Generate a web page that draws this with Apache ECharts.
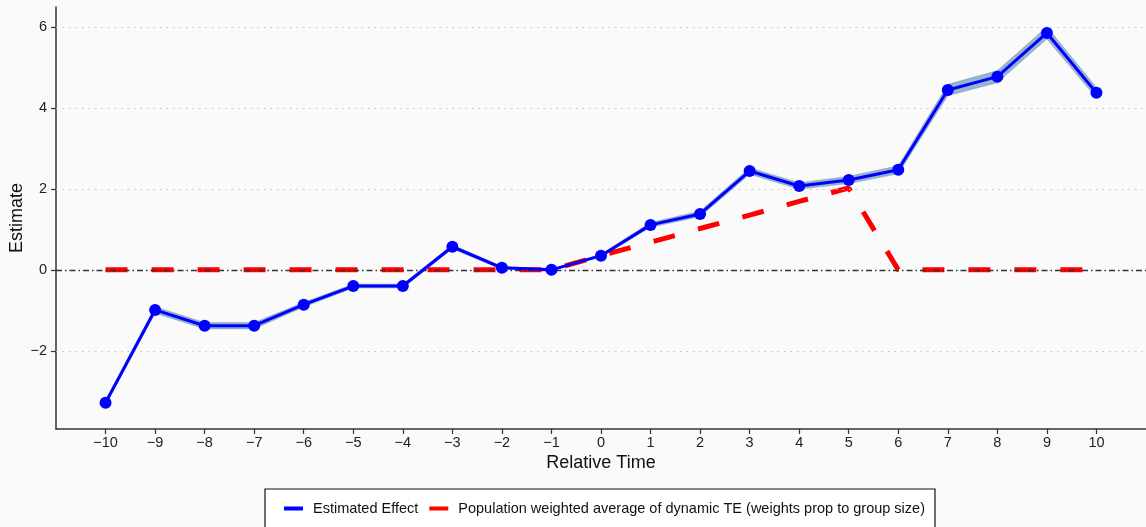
<!DOCTYPE html>
<html>
<head>
<meta charset="utf-8">
<script src="https://cdn.jsdelivr.net/npm/echarts@6/dist/echarts.min.js"></script>
<style>
html,body{margin:0;padding:0;background:#fafafa;}
#chart{width:1146px;height:527px;}
</style>
</head>
<body>
<div id="chart"></div>
<script>
const relTime = [-10,-9,-8,-7,-6,-5,-4,-3,-2,-1,0,1,2,3,4,5,6,7,8,9,10];
const estimate = [-3.28,-0.99,-1.38,-1.38,-0.86,-0.40,-0.40,0.57,0.05,0.0,0.35,1.11,1.38,2.44,2.07,2.22,2.47,4.44,4.77,5.85,4.37];
const ciLower = [-3.34,-1.07,-1.46,-1.46,-0.92,-0.45,-0.45,0.52,0.01,0.0,0.31,1.05,1.31,2.36,1.99,2.13,2.37,4.30,4.62,5.70,4.24];
const ciUpper = [-3.22,-0.91,-1.30,-1.30,-0.80,-0.35,-0.35,0.62,0.09,0.0,0.39,1.17,1.45,2.52,2.15,2.31,2.57,4.58,4.92,6.00,4.50];
const popWeighted = [0,0,0,0,0,0,0,0,0,0,0.35,0.68,1.02,1.35,1.69,2.02,0,0,0,0,0];
const yTicks = [-2,0,2,4,6];
const yGridLines = [-2,2,4,6];
const nameEst = 'Estimated Effect';
const namePop = 'Population weighted average of dynamic TE (weights prop to group size)';

const FONT = 'Liberation Sans';
const pair = (xs, ys) => xs.map((x, i) => [x, ys[i]]);
const bandData = relTime.map((x, i) => [x, ciLower[i], ciUpper[i]]);
const minusFmt = v => String(v).replace('-', '\u2212');

const chart = echarts.init(document.getElementById('chart'), null, {renderer: 'canvas'});
chart.setOption({
  animation: false,
  backgroundColor: '#fafafa',
  grid: {left: 56, right: 0, top: 7, bottom: 98, containLabel: false, outerBoundsMode: 'none'},
  xAxis: {
    type: 'value', min: -11, max: 11,
    name: 'Relative Time', nameLocation: 'middle', nameGap: 25, nameMoveOverlap: false,
    nameTextStyle: {fontFamily: FONT, fontSize: 18, color: '#111'},
    axisLine: {show: true, onZero: false, lineStyle: {color: '#333', width: 1.5}},
    axisTick: {show: true, length: 5, lineStyle: {color: '#333', width: 1.2}, customValues: relTime},
    axisLabel: {fontFamily: FONT, fontSize: 14.5, color: '#222', margin: 6, customValues: relTime, formatter: minusFmt},
    splitLine: {show: false}
  },
  yAxis: {
    type: 'value', min: -3.93, max: 6.49,
    name: 'Estimate', nameLocation: 'middle', nameGap: 30, nameRotate: 90, nameMoveOverlap: false,
    nameTextStyle: {fontFamily: FONT, fontSize: 18, color: '#111'},
    axisLine: {show: true, onZero: false, lineStyle: {color: '#333', width: 1.5}},
    axisTick: {show: true, length: 5, lineStyle: {color: '#333', width: 1.2}, customValues: yTicks},
    axisLabel: {fontFamily: FONT, fontSize: 14.5, color: '#222', margin: 9, customValues: yTicks, formatter: minusFmt},
    splitLine: {show: false}
  },
  legend: {
    show: true, left: 265, top: 489,
    padding: [12, 10, 12, 19],
    borderColor: '#111', borderWidth: 1.2, backgroundColor: '#ffffff',
    itemWidth: 19, itemHeight: 4, itemGap: 11,
    icon: 'rect',
    textStyle: {fontFamily: FONT, fontSize: 14.5, color: '#111', padding: [0, 0, 0, 5]},
    data: [{name: nameEst, icon: 'rect'}, {name: namePop, icon: 'rect'}]
  },
  series: [
    {
      type: 'custom', name: 'ciBand', data: bandData, z: 1, silent: true,
      encode: {x: 0, y: [1, 2]},
      renderItem: function (params, api) {
        const i = params.dataIndex;
        if (i >= bandData.length - 1) return null;
        const p0l = api.coord([api.value(0, i), api.value(1, i)]);
        const p0u = api.coord([api.value(0, i), api.value(2, i)]);
        const p1l = api.coord([api.value(0, i + 1), api.value(1, i + 1)]);
        const p1u = api.coord([api.value(0, i + 1), api.value(2, i + 1)]);
        return {
          type: 'polygon',
          shape: {points: [p0l, p1l, p1u, p0u]},
          style: {fill: 'rgba(70,120,170,0.55)', stroke: 'rgba(70,120,170,0.55)', lineWidth: 0.5}
        };
      },
      markLine: {
        silent: true, symbol: 'none', label: {show: false},
        lineStyle: {color: '#c4c4c4', width: 1.2, type: [1.5, 5]},
        data: yGridLines.map(v => ({yAxis: v}))
      }
    },
    {
      type: 'line', name: namePop, data: pair(relTime, popWeighted),
      symbol: 'none', z: 3,
      itemStyle: {color: '#ff0000'},
      lineStyle: {color: '#ff0000', width: 5, type: [22, 24], cap: 'butt'}
    },
    {
      type: 'line', name: 'zeroLine', data: [], z: 4, silent: true,
      markLine: {
        silent: true, symbol: 'none', label: {show: false},
        lineStyle: {color: '#333', width: 1.4, type: [6, 3, 1.5, 3]},
        data: [{yAxis: 0}]
      }
    },
    {
      type: 'line', name: nameEst, data: pair(relTime, estimate),
      symbol: 'circle', symbolSize: 12, showAllSymbol: true, z: 5,
      itemStyle: {color: '#0000ff'},
      lineStyle: {color: '#0000ff', width: 3}
    }
  ]
});
</script>
</body>
</html>
